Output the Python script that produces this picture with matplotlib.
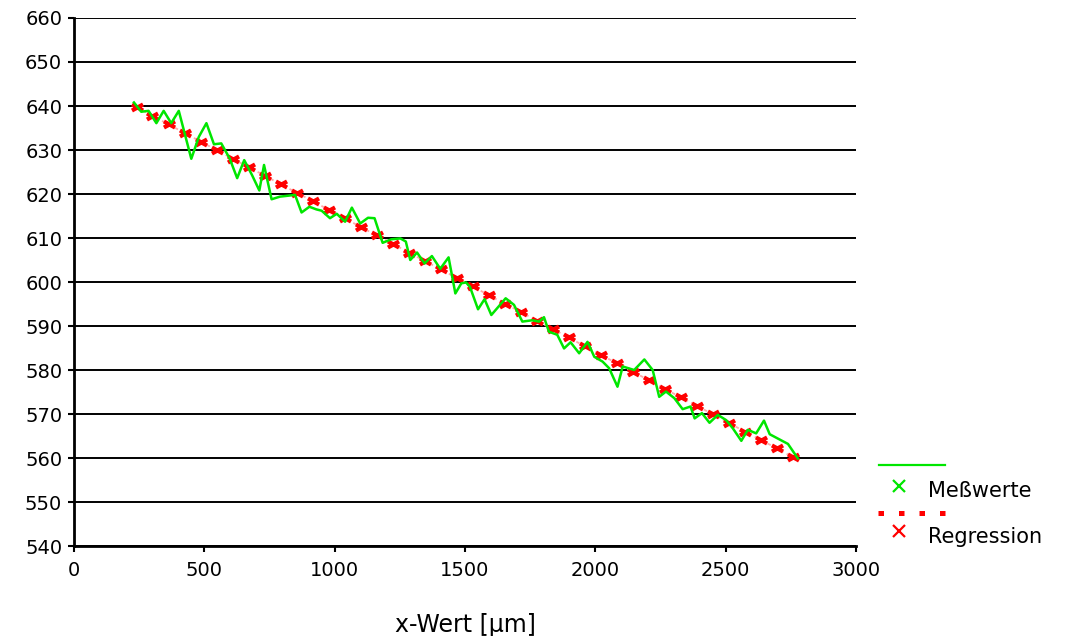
import matplotlib
matplotlib.use("Agg")
import matplotlib.pyplot as plt
from matplotlib.lines import Line2D
from matplotlib.path import Path

# Measured values (green line)
mess_x = [230, 258, 286, 316, 344, 373, 402, 450, 479, 508, 537, 565, 597, 626,
          653, 683, 711, 729, 758, 790, 820, 848, 873, 903, 930, 950, 982, 1008,
          1040, 1066, 1098, 1128, 1153, 1184, 1217, 1252, 1273, 1290, 1316, 1345,
          1373, 1405, 1437, 1463, 1486, 1504, 1519, 1550, 1575, 1601, 1630, 1656,
          1688, 1720, 1758, 1784, 1803, 1822, 1854, 1880, 1905, 1938, 1970, 1996,
          2028, 2053, 2085, 2105, 2149, 2188, 2220, 2245, 2271, 2303, 2335, 2365,
          2381, 2409, 2438, 2470, 2502, 2528, 2560, 2585, 2617, 2647, 2669, 2739,
          2777]
mess_y = [640.8, 638.7, 638.9, 636.1, 638.9, 636.1, 638.9, 628.0, 633.0, 636.1,
          631.3, 631.5, 628.1, 623.6, 627.7, 624.3, 620.8, 626.6, 618.8, 619.4,
          619.6, 619.8, 615.8, 617.1, 616.5, 616.2, 614.5, 615.5, 613.7, 616.9,
          613.3, 614.6, 614.5, 608.9, 609.7, 609.9, 609.2, 605.0, 606.7, 604.2,
          605.9, 603.0, 605.6, 597.4, 599.7, 599.9, 598.9, 593.8, 596.1, 592.5,
          594.5, 596.3, 594.8, 591.0, 591.3, 591.0, 592.0, 588.7, 588.0, 584.9,
          586.3, 583.8, 586.4, 583.0, 581.9, 580.4, 576.2, 580.8, 580.0, 582.4,
          580.0, 573.9, 575.1, 573.6, 571.1, 571.7, 569.0, 570.2, 568.0, 569.8,
          568.6, 566.7, 563.9, 566.4, 565.6, 568.5, 565.4, 563.2, 559.9]

# Regression values (red)
reg_x = [240, 301, 363, 424, 486, 547, 609, 670, 731, 793, 854, 916, 977, 1038,
         1100, 1161, 1223, 1284, 1345, 1407, 1468, 1530, 1591, 1652, 1714, 1775,
         1837, 1898, 1959, 2021, 2082, 2144, 2205, 2266, 2328, 2389, 2451, 2512,
         2573, 2635, 2696, 2757]
reg_y = [639.7, 637.8, 635.8, 633.9, 631.9, 630.0, 628.0, 626.1, 624.2, 622.2,
         620.3, 618.4, 616.4, 614.5, 612.5, 610.6, 608.7, 606.7, 604.8, 602.9,
         600.9, 599.0, 597.0, 595.1, 593.2, 591.2, 589.3, 587.4, 585.4, 583.5,
         581.5, 579.6, 577.7, 575.7, 573.8, 571.9, 569.9, 568.0, 566.0, 564.1,
         562.2, 560.2]

x_ticks = [0, 500, 1000, 1500, 2000, 2500, 3000]
y_ticks = [540, 550, 560, 570, 580, 590, 600, 610, 620, 630, 640, 650, 660]
x_label = "x-Wert [µm]"
legend_labels = ["Meßwerte", "Regression"]

GREEN = "#00e600"
RED = "#ff0000"
FONT = "DejaVu Sans"

plt.rcParams["font.family"] = [FONT]

# squashed x marker (wider than tall)
wide_x = Path([(-1, -0.55), (1, 0.55), (-1, 0.55), (1, -0.55)],
              [Path.MOVETO, Path.LINETO, Path.MOVETO, Path.LINETO])

W, H = 1071, 636
fig = plt.figure(figsize=(W / 100, H / 100), dpi=100)
ax = fig.add_axes([74 / W, 1 - 546 / H, 782 / W, 528 / H])

ax.plot(reg_x, reg_y, color="#ffaaaa", lw=1.3, linestyle=(0, (2, 2)), zorder=3)
ax.plot(reg_x, reg_y, linestyle="none", marker=wide_x, ms=8, mew=3.0,
        color=RED, zorder=4)
ax.plot(mess_x, mess_y, color=GREEN, lw=1.8, zorder=5)

ax.set_xlim(0, 3000)
ax.set_ylim(540, 660)
ax.set_xticks(x_ticks)
ax.set_yticks(y_ticks)
ax.grid(axis="y", color="black", lw=1.4)
ax.set_axisbelow(True)
for s in ["top", "right"]:
    ax.spines[s].set_visible(False)
for s in ["left", "bottom"]:
    ax.spines[s].set_linewidth(2)
ax.tick_params(axis="both", direction="out", length=4.5, width=1.5,
               labelsize=14, colors="black")
ax.tick_params(axis="y", pad=4)
ax.tick_params(axis="x", pad=6)

ax.set_xlabel(x_label, fontsize=17, va="center")
ax.xaxis.set_label_coords(0.5, -(625 - 546) / 528)

# Legend (Excel-style: symbol line on one row, marker + label on next)
def fx(px):
    return px / W

def fy(py):
    return 1 - py / H

fig.add_artist(Line2D([fx(879), fx(945)], [fy(465), fy(465)], color=GREEN, lw=1.6))
fig.add_artist(Line2D([fx(899)], [fy(486)], marker="x", ms=8, mew=1.6,
                      color=GREEN, linestyle="none"))
fig.text(fx(928), fy(491), legend_labels[0], fontsize=15, va="center", ha="left")
fig.add_artist(Line2D([fx(878), fx(945)], [fy(513), fy(513)], color=RED, lw=3.6,
                      linestyle=(0, (1.1, 3.0)), solid_capstyle="butt",
                      dash_capstyle="butt"))
fig.add_artist(Line2D([fx(899)], [fy(531)], marker="x", ms=8, mew=1.6,
                      color=RED, linestyle="none"))
fig.text(fx(928), fy(537), legend_labels[1], fontsize=15, va="center", ha="left")

fig.savefig("out.png", dpi=100)
